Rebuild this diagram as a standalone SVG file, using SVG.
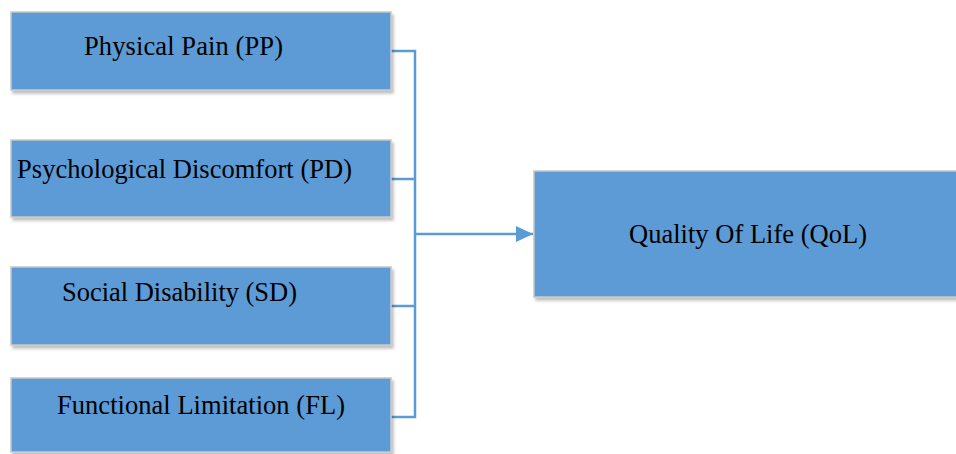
<svg xmlns="http://www.w3.org/2000/svg" width="956" height="454" viewBox="0 0 956 454">
<defs>
<style>
.box{fill:#5B9BD5;stroke:#C8C8C8;stroke-width:1.5;filter:url(#sh)}
.lbl{font-family:"Liberation Serif","Times New Roman",serif;font-size:26.5px;fill:#000}
.con{fill:none;stroke:#5B9BD5;stroke-width:2.5}
</style>
<filter id="sh" x="-5%" y="-10%" width="115%" height="130%">
<feDropShadow dx="2" dy="3" stdDeviation="1.5" flood-color="#000" flood-opacity="0.25"/>
</filter>
<marker id="arr" markerWidth="17" markerHeight="16" refX="17" refY="8" orient="auto" markerUnits="userSpaceOnUse">
<path d="M0,0 L17,8 L0,16 Z" fill="#5B9BD5"/>
</marker>
</defs>
<rect width="956" height="454" fill="#fff"/>
<g id="connectors">
<path class="con" d="M391,51 H415 V417 H391"/>
<path class="con" d="M391,179 H415"/>
<path class="con" d="M391,306 H415"/>
<path class="con" d="M415,234 H533" marker-end="url(#arr)"/>
</g>
<g id="pp"><rect class="box" x="11" y="12" width="380" height="78"/><text class="lbl" x="84" y="55" textLength="199">Physical Pain (PP)</text></g>
<g id="pd"><rect class="box" x="11" y="140" width="380" height="77"/><text class="lbl" x="17" y="178" textLength="335">Psychological Discomfort (PD)</text></g>
<g id="sd"><rect class="box" x="11" y="267" width="380" height="78"/><text class="lbl" x="62" y="301" textLength="235">Social Disability (SD)</text></g>
<g id="fl"><rect class="box" x="11" y="378" width="380" height="74"/><text class="lbl" x="57" y="414" textLength="288">Functional Limitation (FL)</text></g>
<g id="qol"><rect class="box" x="534" y="171" width="430" height="126"/><text class="lbl" x="629" y="243" textLength="238">Quality Of Life (QoL)</text></g>
</svg>
